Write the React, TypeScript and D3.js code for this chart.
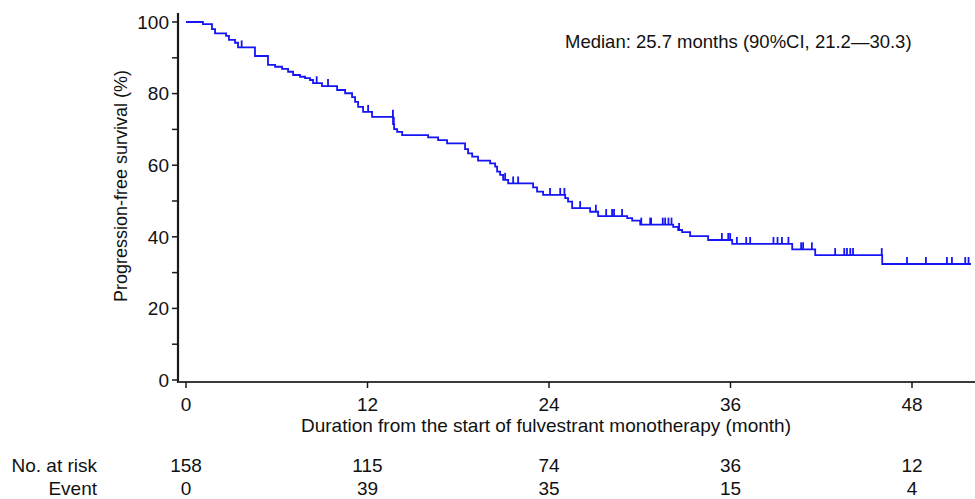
import React from "react";
import * as d3 from "d3";

const eventTimes = [1.12, 1.72, 1.92, 2.65, 2.84, 3.24, 3.44, 4.56, 5.42, 5.89, 6.35, 6.75, 7.08, 7.54, 7.87, 8.2, 8.4, 8.99, 9.99, 10.52, 10.98, 11.18, 11.38, 11.71, 12.3, 13.69, 13.76, 13.96, 14.29, 16.01, 16.67, 17.26, 18.45, 18.65, 18.92, 19.31, 20.11, 20.44, 20.57, 20.77, 20.97, 21.3, 22.95, 23.21, 23.61, 25.07, 25.26, 25.53, 26.72, 27.25, 29.17, 29.5, 30.03, 32.21, 32.54, 32.8, 33.33, 34.52, 36.11, 40.08, 41.6, 46.03];
const eventSurv = [99.4, 98.0, 96.8, 96.1, 95.0, 94.2, 92.9, 90.5, 88.0, 87.5, 86.9, 86.1, 85.2, 84.7, 84.3, 83.8, 82.9, 82.1, 81.0, 80.1, 79.0, 77.7, 76.3, 74.9, 73.5, 71.5, 70.1, 69.3, 68.4, 67.8, 67.0, 66.1, 64.5, 63.3, 62.4, 61.3, 60.5, 59.6, 58.2, 57.3, 55.9, 54.9, 53.8, 52.6, 51.7, 50.8, 49.8, 48.0, 47.0, 45.8, 45.2, 44.5, 43.4, 42.8, 41.9, 41.3, 40.2, 39.1, 38.0, 36.5, 34.9, 32.4];
const censorTimes = [3.68, 8.64, 9.39, 12.04, 13.68, 13.74, 21.1, 21.63, 21.96, 24.07, 24.74, 25.02, 26.06, 27.1, 27.78, 28.17, 28.3, 28.83, 30.1, 30.69, 30.75, 31.52, 31.68, 31.9, 32.1, 32.6, 35.43, 35.85, 35.98, 36.42, 37.04, 37.3, 38.84, 39.11, 39.4, 39.83, 40.67, 40.8, 41.38, 42.92, 43.52, 43.7, 43.92, 44.1, 46.0, 47.67, 48.92, 50.31, 50.64, 51.52, 51.74];
const lastTime = 51.9;

const xTicks = [0, 12, 24, 36, 48];
const yMajor = [0, 20, 40, 60, 80, 100];
const yMinor = [10, 30, 50, 70, 90];
const atRisk = [158, 115, 74, 36, 12];
const events = [0, 39, 35, 15, 4];
const medianText = "Median: 25.7 months (90%CI, 21.2\u201430.3)";
const xTitle = "Duration from the start of fulvestrant monotherapy (month)";
const yTitle = "Progression-free survival (%)";

const sans = "'Liberation Sans', Arial, sans-serif";

export default function App() {
  const W = 975, H = 499;
  const x = d3.scaleLinear().domain([0, 48]).range([186, 912]);
  const y = d3.scaleLinear().domain([0, 100]).range([380, 22]);

  const pts: [number, number][] = [[0, 100]];
  eventTimes.forEach((t, i) => pts.push([t, eventSurv[i]]));
  pts.push([lastTime, eventSurv[eventSurv.length - 1]]);
  const line = d3.line<[number, number]>().x(d => x(d[0])).y(d => y(d[1])).curve(d3.curveStepAfter);

  const survAt = (t: number) => {
    let s = 100;
    for (let i = 0; i < eventTimes.length; i++) if (eventTimes[i] <= t) s = eventSurv[i];
    return s;
  };

  const axisColor = "#1a1a1a";
  const blue = "#1515f5";
  const txt = "#111";
  const bottomSize = 19;

  return (
    <svg width={W} height={H} style={{ position: "absolute", left: 0, top: 0, background: "#fff" }}>
      {/* y axis */}
      <line x1={178} x2={178} y1={13} y2={383} stroke={axisColor} strokeWidth={2.2} />
      {[...yMajor, ...yMinor].map(v => (
        <line key={"yt" + v} x1={172} x2={178} y1={y(v)} y2={y(v)} stroke={axisColor} strokeWidth={1.5} />
      ))}
      {yMajor.map(v => (
        <text key={"yl" + v} x={169} y={y(v)} dy="0.36em" textAnchor="end" fontFamily={sans} fontSize={19} fill={txt}>{v}</text>
      ))}
      <text transform={`translate(127,186) rotate(-90)`} textAnchor="middle" fontFamily={sans} fontSize={18} fill={txt}>{yTitle}</text>

      {/* x axis */}
      <line x1={178} x2={975} y1={382} y2={382} stroke="#3a3a3a" strokeWidth={2} />
      {xTicks.map(v => (
        <line key={"xt" + v} x1={x(v)} x2={x(v)} y1={382} y2={388} stroke={axisColor} strokeWidth={1.5} />
      ))}
      {xTicks.map(v => (
        <text key={"xl" + v} x={x(v)} y={411} textAnchor="middle" fontFamily={sans} fontSize={bottomSize} fill={txt}>{v}</text>
      ))}
      <text x={546} y={432} textAnchor="middle" fontFamily={sans} fontSize={bottomSize} fill={txt}>{xTitle}</text>

      {/* curve */}
      <path d={line(pts) || ""} fill="none" stroke={blue} strokeWidth={1.8} />
      {censorTimes.map((t, i) => (
        <line key={"c" + i} x1={x(t)} x2={x(t)} y1={y(survAt(t))} y2={y(survAt(t)) - 7} stroke={blue} strokeWidth={1.8} />
      ))}

      <text x={565} y={48} fontFamily={sans} fontSize={18.5} fill={txt}>{medianText}</text>

      {/* at risk table */}
      <text x={97} y={472} textAnchor="end" fontFamily={sans} fontSize={bottomSize} fill={txt}>No. at risk</text>
      <text x={97} y={495} textAnchor="end" fontFamily={sans} fontSize={bottomSize} fill={txt}>Event</text>
      {atRisk.map((v, i) => (
        <text key={"ar" + i} x={x(xTicks[i])} y={472} textAnchor="middle" fontFamily={sans} fontSize={bottomSize} fill={txt}>{v}</text>
      ))}
      {events.map((v, i) => (
        <text key={"ev" + i} x={x(xTicks[i])} y={495} textAnchor="middle" fontFamily={sans} fontSize={bottomSize} fill={txt}>{v}</text>
      ))}
    </svg>
  );
}
